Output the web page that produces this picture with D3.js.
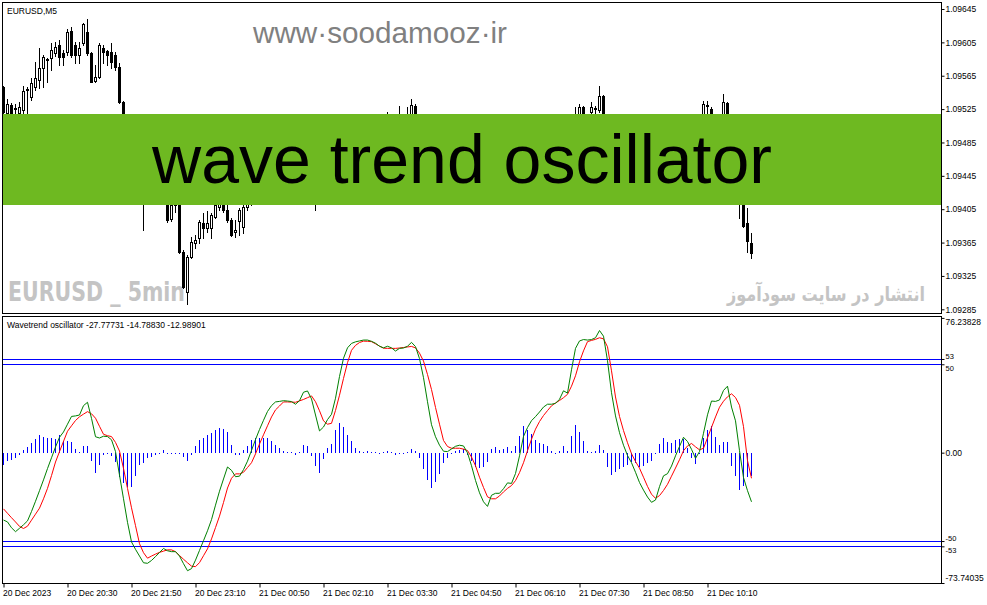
<!DOCTYPE html>
<html><head><meta charset="utf-8">
<script src="https://cdn.jsdelivr.net/npm/d3@7"></script>
<style>body{margin:0;background:#fff}text{font-family:"Liberation Sans",Arial,sans-serif}</style>
</head><body>
<svg id="c" width="987" height="605"></svg>
<script>
// ---------- DATA ----------
const timeLabels = ["20 Dec 2023","20 Dec 20:30","20 Dec 21:50","20 Dec 23:10","21 Dec 00:50","21 Dec 02:10","21 Dec 03:30","21 Dec 04:50","21 Dec 06:10","21 Dec 07:30","21 Dec 08:50","21 Dec 10:10"];
const timeTickBars = [0,16,32,48,64,80,96,112,128,144,160,176];
const priceTicks = [1.09645,1.09605,1.09565,1.09525,1.09485,1.09445,1.09405,1.09365,1.09325,1.09285];
const oscTicks = [76.23828,53,50,0,-50,-53,-73.74035];
const oscTickLabels = ["76.23828","53","50","0.00","-50","-53","-73.74035"];
const levels = [53,50,-50,-53];
const legendValues = [-27.77731,-14.78830,-12.98901];

const open = [1.09552,1.09520,1.09530,1.09526,1.09520,1.09524,1.09548,1.09540,1.09552,1.09560,
1.09574,1.09584,1.09586,1.09592,1.09602,1.09592,1.09594,1.09619,1.09602,1.09590,
1.09604,1.09618,1.09592,1.09559,1.09564,1.09598,1.09595,1.09594,1.09590,1.09576,
1.09534,1.09488,1.09458,1.09476,1.09446,1.09428,1.09418,1.09434,1.09426,1.09440,
1.09422,1.09418,1.09393,1.09410,1.09416,1.09354,1.09306,1.09348,1.09364,1.09370,
1.09388,1.09382,1.09382,1.09396,1.09408,1.09416,1.09404,1.09392,1.09378,1.09391,
1.09384,1.09408,1.09416,1.09421,1.09430,1.09440,1.09450,1.09445,1.09457,1.09464,
1.09459,1.09466,1.09460,1.09456,1.09464,1.09474,1.09480,1.09464,1.09442,1.09428,
1.09440,1.09452,1.09464,1.09482,1.09498,1.09506,1.09500,1.09510,1.09502,1.09511,
1.09505,1.09510,1.09500,1.09495,1.09502,1.09496,1.09505,1.09512,1.09506,1.09502,
1.09514,1.09510,1.09519,1.09529,1.09512,1.09494,1.09476,1.09462,1.09452,1.09458,
1.09446,1.09440,1.09450,1.09454,1.09450,1.09456,1.09446,1.09438,1.09428,1.09421,
1.09418,1.09426,1.09417,1.09430,1.09435,1.09430,1.09440,1.09445,1.09438,1.09450,
1.09464,1.09476,1.09481,1.09476,1.09484,1.09488,1.09483,1.09490,1.09486,1.09493,
1.09498,1.09507,1.09500,1.09512,1.09517,1.09528,1.09514,1.09522,1.09526,1.09524,
1.09541,1.09506,1.09482,1.09464,1.09454,1.09459,1.09450,1.09442,1.09436,1.09441,
1.09430,1.09426,1.09421,1.09426,1.09435,1.09445,1.09450,1.09445,1.09454,1.09464,
1.09470,1.09462,1.09457,1.09452,1.09464,1.09500,1.09529,1.09525,1.09514,1.09517,
1.09514,1.09532,1.09500,1.09476,1.09446,1.09416,1.09388,1.09364];
const high = [1.09553,1.09537,1.09532,1.09531,1.09534,1.09553,1.09552,1.09562,1.09582,1.09598,
1.09590,1.09586,1.09604,1.09606,1.09608,1.09596,1.09621,1.09624,1.09606,1.09606,
1.09628,1.09633,1.09594,1.09578,1.09604,1.09602,1.09596,1.09604,1.09594,1.09580,
1.09535,1.09500,1.09488,1.09482,1.09452,1.09440,1.09440,1.09446,1.09452,1.09446,
1.09434,1.09428,1.09416,1.09422,1.09418,1.09356,1.09350,1.09372,1.09374,1.09392,
1.09400,1.09403,1.09400,1.09416,1.09428,1.09422,1.09410,1.09394,1.09392,1.09406,
1.09416,1.09422,1.09428,1.09434,1.09445,1.09454,1.09458,1.09462,1.09469,1.09470,
1.09474,1.09471,1.09466,1.09469,1.09478,1.09486,1.09482,1.09468,1.09446,1.09450,
1.09458,1.09469,1.09488,1.09502,1.09512,1.09510,1.09514,1.09513,1.09516,1.09514,
1.09514,1.09512,1.09506,1.09507,1.09506,1.09510,1.09522,1.09516,1.09512,1.09529,
1.09518,1.09528,1.09537,1.09531,1.09514,1.09498,1.09480,1.09466,1.09464,1.09462,
1.09452,1.09454,1.09459,1.09458,1.09460,1.09459,1.09451,1.09441,1.09433,1.09428,
1.09430,1.09429,1.09434,1.09440,1.09442,1.09445,1.09450,1.09450,1.09454,1.09469,
1.09481,1.09488,1.09486,1.09488,1.09493,1.09493,1.09495,1.09495,1.09498,1.09502,
1.09512,1.09512,1.09517,1.09528,1.09531,1.09529,1.09519,1.09534,1.09529,1.09553,
1.09542,1.09510,1.09486,1.09470,1.09464,1.09464,1.09454,1.09447,1.09446,1.09445,
1.09435,1.09430,1.09430,1.09439,1.09450,1.09454,1.09454,1.09459,1.09469,1.09476,
1.09474,1.09466,1.09462,1.09469,1.09493,1.09535,1.09535,1.09528,1.09519,1.09519,
1.09543,1.09534,1.09502,1.09478,1.09450,1.09418,1.09406,1.09376];
const low = [1.09516,1.09517,1.09516,1.09517,1.09517,1.09520,1.09520,1.09536,1.09548,1.09550,
1.09552,1.09558,1.09572,1.09589,1.09578,1.09578,1.09590,1.09588,1.09580,1.09580,
1.09602,1.09590,1.09558,1.09558,1.09562,1.09580,1.09578,1.09574,1.09572,1.09532,
1.09476,1.09452,1.09446,1.09434,1.09418,1.09380,1.09414,1.09416,1.09418,1.09416,
1.09412,1.09390,1.09391,1.09402,1.09352,1.09310,1.09291,1.09346,1.09358,1.09364,
1.09370,1.09378,1.09370,1.09394,1.09404,1.09402,1.09390,1.09373,1.09372,1.09374,
1.09376,1.09404,1.09410,1.09417,1.09426,1.09435,1.09440,1.09442,1.09452,1.09454,
1.09457,1.09454,1.09450,1.09452,1.09459,1.09470,1.09460,1.09438,1.09404,1.09422,
1.09434,1.09447,1.09460,1.09478,1.09493,1.09494,1.09495,1.09498,1.09499,1.09500,
1.09501,1.09495,1.09490,1.09492,1.09492,1.09493,1.09502,1.09501,1.09498,1.09500,
1.09505,1.09506,1.09517,1.09510,1.09490,1.09472,1.09457,1.09446,1.09445,1.09440,
1.09433,1.09435,1.09445,1.09445,1.09446,1.09442,1.09433,1.09423,1.09416,1.09414,
1.09414,1.09412,1.09414,1.09426,1.09426,1.09427,1.09435,1.09433,1.09434,1.09446,
1.09460,1.09470,1.09471,1.09472,1.09480,1.09478,1.09481,1.09481,1.09482,1.09488,
1.09495,1.09495,1.09498,1.09510,1.09514,1.09512,1.09510,1.09517,1.09519,1.09522,
1.09502,1.09476,1.09458,1.09450,1.09450,1.09445,1.09438,1.09432,1.09430,1.09426,
1.09421,1.09416,1.09416,1.09418,1.09430,1.09440,1.09440,1.09440,1.09450,1.09459,
1.09457,1.09452,1.09447,1.09450,1.09462,1.09496,1.09512,1.09510,1.09510,1.09512,
1.09512,1.09496,1.09470,1.09440,1.09394,1.09384,1.09354,1.09346];
const close = [1.09522,1.09531,1.09518,1.09525,1.09528,1.09547,1.09549,1.09556,1.09562,1.09574,
1.09588,1.09585,1.09596,1.09600,1.09588,1.09588,1.09618,1.09590,1.09590,1.09598,
1.09627,1.09592,1.09558,1.09564,1.09602,1.09594,1.09590,1.09582,1.09576,1.09534,
1.09488,1.09464,1.09476,1.09446,1.09428,1.09418,1.09434,1.09428,1.09440,1.09422,
1.09418,1.09392,1.09410,1.09412,1.09354,1.09312,1.09348,1.09366,1.09368,1.09390,
1.09382,1.09388,1.09398,1.09410,1.09416,1.09404,1.09392,1.09374,1.09380,1.09404,
1.09408,1.09416,1.09421,1.09430,1.09440,1.09450,1.09445,1.09457,1.09464,1.09459,
1.09466,1.09460,1.09456,1.09464,1.09474,1.09480,1.09464,1.09442,1.09428,1.09440,
1.09452,1.09464,1.09482,1.09498,1.09506,1.09500,1.09510,1.09502,1.09511,1.09505,
1.09510,1.09500,1.09495,1.09502,1.09496,1.09505,1.09512,1.09506,1.09502,1.09514,
1.09510,1.09517,1.09530,1.09512,1.09494,1.09476,1.09462,1.09452,1.09458,1.09446,
1.09440,1.09450,1.09454,1.09450,1.09456,1.09446,1.09438,1.09428,1.09421,1.09418,
1.09426,1.09417,1.09430,1.09435,1.09430,1.09440,1.09445,1.09438,1.09450,1.09464,
1.09476,1.09481,1.09476,1.09484,1.09488,1.09483,1.09490,1.09486,1.09493,1.09498,
1.09507,1.09500,1.09512,1.09518,1.09528,1.09514,1.09518,1.09528,1.09525,1.09541,
1.09506,1.09482,1.09464,1.09454,1.09459,1.09450,1.09442,1.09436,1.09441,1.09430,
1.09426,1.09421,1.09426,1.09435,1.09445,1.09450,1.09445,1.09454,1.09464,1.09470,
1.09462,1.09457,1.09452,1.09464,1.09488,1.09531,1.09530,1.09514,1.09517,1.09518,
1.09534,1.09500,1.09476,1.09446,1.09416,1.09385,1.09367,1.09352];

// wave trend main line (green) and signal (red)
const wt1 = [-38.1,-39.2,-42.5,-44.7,-42.8,-40.8,-38.6,-33.3,-27.5,-21.5,
-15.4,-9.0,-2.9,3.2,8.7,11.7,16.1,20.5,20.8,21.3,
26.6,28.5,19.4,9.0,8.3,9.3,9.1,7.3,0.6,-12.7,
-26.1,-39.4,-50.5,-54.7,-58.5,-62.3,-62.6,-61.0,-58.8,-56.5,
-54.2,-55.5,-56.0,-56.0,-58.5,-62.8,-66.8,-65.6,-60.8,-55.3,
-49.8,-44.2,-37.9,-29.7,-21.8,-14.9,-8.1,-10.0,-13.6,-13.3,
-9.6,-4.8,1.3,7.4,13.1,18.3,23.3,26.6,28.7,29.0,
29.4,29.2,28.9,27.4,29.4,34.2,34.9,30.4,21.3,12.3,
14.5,18.7,21.7,30.8,43.1,53.4,59.3,61.8,62.7,63.2,
63.7,63.7,63.0,61.9,60.2,59.3,60.2,59.3,57.5,59.0,
59.2,60.2,62.4,60.0,53.2,42.4,28.8,15.8,9.0,4.2,
0.8,0.6,2.1,3.6,4.2,3.8,-0.1,-7.4,-15.7,-22.7,
-27.8,-30.4,-24.1,-23.0,-23.0,-20.4,-17.1,-17.4,-11.8,-1.8,
9.2,14.2,18.1,20.4,23.0,25.8,27.4,27.4,27.9,30.2,
35.0,33.7,46.9,59.0,63.2,64.0,63.7,64.0,65.0,69.1,
65.9,52.0,33.9,20.8,11.3,4.2,-1.6,-5.7,-11.1,-16.9,
-21.2,-25.1,-28.1,-26.8,-19.2,-13.1,-11.9,-7.6,-1.8,3.5,
8.7,6.3,1.9,-3.2,0.6,11.0,21.4,29.2,29.0,29.8,
35.2,37.6,25.8,18.0,1.1,-14.1,-21.5,-27.8];
const wt2 = [-31.8,-34.3,-36.8,-39.2,-41.7,-42.9,-41.6,-38.2,-34.8,-31.4,
-26.1,-20.2,-13.0,-5.3,0.6,6.4,12.1,15.2,18.2,20.3,
21.8,23.2,22.0,19.5,14.9,10.4,9.6,9.1,5.8,0.9,
-8.9,-20.2,-31.2,-41.3,-51.5,-56.6,-59.7,-58.5,-57.4,-56.4,
-55.7,-55.0,-55.0,-56.0,-58.2,-60.3,-62.3,-64.2,-64.5,-62.2,
-58.3,-54.4,-48.8,-42.4,-35.9,-28.2,-20.0,-14.5,-12.0,-12.0,
-11.1,-8.4,-5.7,-0.7,4.9,10.1,15.2,20.2,24.2,26.4,
28.7,28.7,28.6,28.5,29.3,30.1,31.1,32.1,28.8,23.7,
18.0,16.1,16.6,23.9,32.5,42.0,50.9,57.9,60.7,62.3,
63.1,63.0,62.8,61.6,60.3,59.1,59.0,59.0,59.0,59.2,
59.5,59.8,60.1,59.3,56.3,51.8,44.2,35.7,25.6,16.1,
6.9,3.5,2.5,2.5,2.5,2.0,1.2,-2.5,-7.4,-13.9,
-19.7,-25.0,-26.1,-26.1,-24.5,-22.2,-20.2,-18.6,-15.8,-11.3,
-5.7,1.1,7.6,13.3,17.6,21.0,23.8,26.5,28.1,29.5,
31.1,33.0,37.6,43.5,51.4,57.6,62.8,63.5,64.1,65.0,
64.4,59.9,46.3,31.5,20.5,12.5,5.6,-0.6,-5.0,-8.8,
-13.9,-19.1,-23.5,-25.8,-24.3,-21.4,-17.9,-13.3,-8.7,-4.0,
1.1,3.8,5.2,3.3,1.6,2.5,8.4,14.3,20.2,25.7,
29.1,31.6,33.3,31.2,26.8,14.7,-4.5,-14.5];
const hist = [-7.0,-5.0,-4.0,-3.0,-1.1,1.5,3.0,5.3,7.7,10.0,
9.0,8.5,8.5,7.7,10.0,6.5,6.6,5.8,2.0,0.5,
4.0,4.0,-5.0,-11.3,-7.0,-1.3,-0.5,-1.8,-5.2,-13.6,
-17.2,-19.2,-19.3,-13.4,-7.0,-5.7,-2.9,-2.5,-1.4,-0.5,
1.5,-0.5,-1.0,-0.5,-0.3,-2.5,-4.5,-1.4,3.7,6.9,
8.5,10.2,10.9,12.7,14.1,13.3,11.9,4.5,-1.6,-1.3,
1.5,3.6,7.0,8.1,8.2,8.2,8.1,6.4,4.5,2.6,
0.7,0.5,0.3,-1.1,0.5,4.1,3.8,-1.7,-7.5,-11.4,
-3.5,2.6,5.1,12.8,16.6,14.7,10.0,6.6,2.8,0.9,
0.6,0.7,0.3,0.3,-0.5,0.2,1.2,0.3,-1.5,-0.3,
-0.3,0.4,2.3,0.7,-3.1,-9.4,-15.4,-19.9,-16.6,-11.9,
-6.1,-2.9,-0.4,1.1,1.7,1.8,-1.3,-4.9,-8.3,-8.8,
-8.1,-5.4,2.0,3.1,1.5,1.8,3.1,1.2,4.0,9.5,
14.9,13.1,10.5,7.1,5.4,4.8,3.6,0.9,-0.3,0.7,
3.9,0.7,9.3,15.5,11.8,6.4,0.9,0.5,0.9,4.1,
1.5,-7.9,-12.4,-10.7,-9.2,-8.3,-7.2,-5.1,-6.1,-8.1,
-7.3,-6.0,-4.6,-1.0,5.1,8.3,6.0,5.7,6.9,7.5,
7.6,2.5,-3.3,-6.5,-1.0,8.5,13.0,14.9,8.8,4.1,
6.1,6.0,-7.5,-13.2,-21.0,-19.0,-14.0,-13.0];

// ---------- LAYOUT ----------
const svg = d3.select("#c");
const plotL = 2.5, plotR = 941.5;
const top1 = 2.5, bot1 = 313.5, top2 = 316.5, bot2 = 583.5;
const n = close.length;
const xs = d3.scaleLinear().domain([0, 187]).range([3, 751]);
const yP = d3.scaleLinear().domain([1.09645, 1.09285]).range([9, 309.3]);
const yO = d3.scaleLinear().domain([76.23828, -73.74035]).range([317.9, 583]);

svg.append("rect").attr("width",987).attr("height",605).attr("fill","#fff");
const defs = svg.append("defs");
defs.append("clipPath").attr("id","cp1").append("rect").attr("x",3).attr("y",3).attr("width",938).attr("height",310);
defs.append("clipPath").attr("id","cp2").append("rect").attr("x",3).attr("y",317).attr("width",938).attr("height",266);

// ---------- TOP PANEL ----------
const g1 = svg.append("g").attr("clip-path","url(#cp1)");
g1.append("text").attr("x",8).attr("y",301).attr("textLength",177).attr("lengthAdjust","spacingAndGlyphs")
  .style("font-family","'Liberation Sans Narrow','DejaVu Sans Condensed',sans-serif").style("font-weight","bold")
  .style("font-size","26px").attr("fill","#c4c4c4").text("EURUSD _ 5min");

const idx = d3.range(n);
const cg = g1.append("g").attr("shape-rendering","crispEdges");
cg.selectAll("rect.w").data(idx).join("rect").attr("class","w")
  .attr("x", i => Math.round(xs(i))).attr("width",1)
  .attr("y", i => Math.round(yP(high[i])))
  .attr("height", i => Math.max(1, Math.round(yP(low[i])) - Math.round(yP(high[i])) + 1))
  .attr("fill","#000");
cg.selectAll("rect.b").data(idx).join("rect").attr("class","b")
  .attr("x", i => Math.round(xs(i)) - 0.5).attr("width",2)
  .attr("y", i => Math.round(yP(Math.max(open[i],close[i]))) + 0.5)
  .attr("height", i => Math.max(0, Math.round(yP(Math.min(open[i],close[i]))) - Math.round(yP(Math.max(open[i],close[i])))))
  .attr("fill", i => close[i] >= open[i] ? "#fff" : "#000")
  .attr("stroke","#000").attr("stroke-width",1);

// banner
g1.append("rect").attr("x",3).attr("y",114).attr("width",938).attr("height",91).attr("fill","#6EB921");
g1.append("text").attr("x",462).attr("y",183).attr("text-anchor","middle")
  .style("font-size","68px").attr("fill","#000").text("wave trend oscillator");
g1.append("text").attr("x",253).attr("y",43).attr("textLength",254).attr("lengthAdjust","spacingAndGlyphs")
  .style("font-size","30px").attr("fill","#808080").text("www·soodamooz·ir");
g1.append("text").attr("x",925).attr("y",301).attr("text-anchor","end").attr("textLength",198).attr("lengthAdjust","spacingAndGlyphs")
  .style("font-family","'DejaVu Sans',sans-serif").style("font-weight","bold").style("font-size","20px")
  .attr("fill","#c4c4c4").text("انتشار در سایت سودآموز");
g1.append("text").attr("x",7).attr("y",14).style("font-size","8.5px").attr("fill","#000").text("EURUSD,M5");

// frames
svg.append("rect").attr("x",plotL).attr("y",top1).attr("width",plotR-plotL).attr("height",bot1-top1)
  .attr("fill","none").attr("stroke","#000").attr("shape-rendering","crispEdges");
svg.append("rect").attr("x",plotL).attr("y",top2).attr("width",plotR-plotL).attr("height",bot2-top2)
  .attr("fill","none").attr("stroke","#000").attr("shape-rendering","crispEdges");

// price axis
const pAx = svg.append("g").attr("transform","translate(941.5,0)")
  .call(d3.axisRight(yP).tickValues(priceTicks).tickSize(3).tickPadding(1).tickFormat(d3.format(".5f")));
pAx.select(".domain").remove();
pAx.selectAll("text").style("font-size","8.5px").style("font-family","'Liberation Sans',Arial,sans-serif").attr("fill","#000");
pAx.selectAll("line").attr("stroke","#000");

// ---------- OSC PANEL ----------
const g2 = svg.append("g").attr("clip-path","url(#cp2)");
g2.append("g").attr("shape-rendering","crispEdges").selectAll("line").data(levels).join("line")
  .attr("x1",3).attr("x2",941).attr("y1",d => Math.round(yO(d))+0.5).attr("y2",d => Math.round(yO(d))+0.5)
  .attr("stroke","#0000ff").attr("stroke-width",1);
const y0 = Math.round(yO(0));
g2.append("g").attr("shape-rendering","crispEdges").selectAll("rect").data(idx).join("rect")
  .attr("x", i => Math.round(xs(i))).attr("width",1)
  .attr("y", i => hist[i] >= 0 ? Math.round(yO(hist[i])) : y0)
  .attr("height", i => Math.max(1, Math.abs(Math.round(yO(hist[i])) - y0)))
  .attr("fill","#0000ff");
const lineGen = arr => d3.line().x((d,i) => xs(i)+0.5).y(d => yO(d))(arr);
g2.append("path").attr("d", lineGen(wt2)).attr("fill","none").attr("stroke","#ff0000").attr("stroke-width",1);
g2.append("path").attr("d", lineGen(wt1)).attr("fill","none").attr("stroke","#008000").attr("stroke-width",1);
g2.append("text").attr("x",7).attr("y",328).style("font-size","8.5px").attr("fill","#000")
  .text("Wavetrend oscillator " + legendValues.map(v => v.toFixed(5)).join(" "));

const oAx = svg.append("g").attr("transform","translate(941.5,0)")
  .call(d3.axisRight(yO).tickValues(oscTicks).tickSize(3).tickPadding(1).tickFormat((d,i) => oscTickLabels[i]));
oAx.select(".domain").remove();
oAx.selectAll("text").style("font-size","8.5px").style("font-family","'Liberation Sans',Arial,sans-serif").attr("fill","#000");
oAx.selectAll("line").attr("stroke","#000");
oAx.selectAll(".tick").filter(d => d === 76.23828).select("text").attr("y",4);
oAx.selectAll(".tick").filter(d => d === -73.74035).select("text").attr("y",-5);
// close pairs of level labels: nudge apart so they do not collide
oAx.selectAll(".tick").filter(d => d === 53 || d === -50).select("text").attr("y",-3).style("font-size","7.5px");
oAx.selectAll(".tick").filter(d => d === 50 || d === -53).select("text").attr("y",4).style("font-size","7.5px");

// time axis
const tAx = svg.append("g").attr("transform","translate(0.5,583.5)")
  .call(d3.axisBottom(xs).tickValues(timeTickBars).tickSize(4).tickPadding(2).tickFormat((d,i) => timeLabels[i]));
tAx.select(".domain").remove();
tAx.selectAll("text").attr("text-anchor","start").attr("x",-1).style("font-size","8.5px")
  .style("font-family","'Liberation Sans',Arial,sans-serif").attr("fill","#000");
tAx.selectAll("line").attr("stroke","#000");
</script>
</body></html>
